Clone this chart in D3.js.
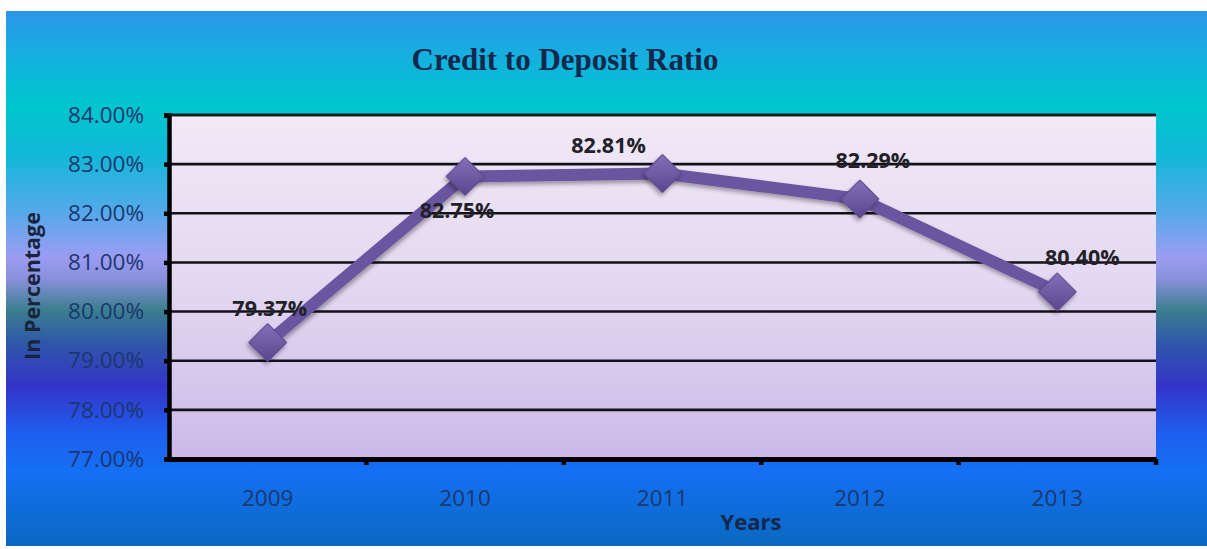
<!DOCTYPE html>
<html>
<head>
<meta charset="utf-8">
<script src="https://cdn.jsdelivr.net/npm/d3@7"></script>
<style>
  html, body { margin: 0; padding: 0; background: #fff; }
  svg { display: block; }
</style>
</head>
<body>
<svg id="chart" width="1207" height="549"></svg>
<script>
// Credit to Deposit Ratio, 2009–2013
const years = ["2009", "2010", "2011", "2012", "2013"];
const ratios = [79.37, 82.75, 82.81, 82.29, 80.40];
const yTicks = [77, 78, 79, 80, 81, 82, 83, 84];

// label placement relative to each marker
const labelDx = [2, -8, -54, 13, 25];
const labelDy = [-27, 42, -20, -31, -27];

const svg = d3.select("#chart");
const defs = svg.append("defs");

// outer background gradient
const bg = defs.append("linearGradient").attr("id", "bgGrad")
  .attr("x1", 0).attr("y1", 0).attr("x2", 0).attr("y2", 1);
[
  [0.00, "#2d96ea"], [0.10, "#10b4dc"], [0.18, "#00c6cc"], [0.27, "#12b8d8"],
  [0.38, "#58a8ea"], [0.46, "#9c9cf2"], [0.50, "#8a90dc"], [0.56, "#3a7e8e"],
  [0.62, "#2f58a8"], [0.70, "#3434c8"], [0.79, "#1e5ef0"], [0.86, "#1470f4"],
  [1.00, "#0a68c0"]
].forEach(([o, c]) => bg.append("stop").attr("offset", o).attr("stop-color", c));

// plot area gradient
const pg = defs.append("linearGradient").attr("id", "plotGrad")
  .attr("x1", 0).attr("y1", 0).attr("x2", 0).attr("y2", 1);
pg.append("stop").attr("offset", 0).attr("stop-color", "#f1e9f7");
pg.append("stop").attr("offset", 0.5).attr("stop-color", "#e2d8f0");
pg.append("stop").attr("offset", 1).attr("stop-color", "#cbb9e9");

// marker shading
const mg = defs.append("linearGradient").attr("id", "markGrad")
  .attr("x1", 0).attr("y1", 0).attr("x2", 1).attr("y2", 1);
mg.append("stop").attr("offset", 0).attr("stop-color", "#8470b8");
mg.append("stop").attr("offset", 1).attr("stop-color", "#5a468e");

const shadow = defs.append("filter").attr("id", "shadow")
  .attr("x", "-50%").attr("y", "-50%").attr("width", "200%").attr("height", "200%");
shadow.append("feDropShadow").attr("dx", 1).attr("dy", 3).attr("stdDeviation", 2)
  .attr("flood-color", "#000").attr("flood-opacity", 0.35);

svg.append("rect").attr("x", 6).attr("y", 11).attr("width", 1201).attr("height", 535)
  .attr("fill", "url(#bgGrad)");

const plot = { left: 169, right: 1156, top: 115, bottom: 459 };

const x = d3.scaleBand().domain(years).range([plot.left, plot.right]).padding(0);
const y = d3.scaleLinear().domain([77, 84]).range([plot.bottom, plot.top]);

svg.append("rect")
  .attr("x", plot.left).attr("y", plot.top)
  .attr("width", plot.right - plot.left).attr("height", plot.bottom - plot.top)
  .attr("fill", "url(#plotGrad)");

// horizontal grid
svg.append("g").selectAll("line").data(yTicks.filter(d => d > 77)).join("line")
  .attr("x1", plot.left).attr("x2", plot.right)
  .attr("y1", d => y(d)).attr("y2", d => y(d))
  .attr("stroke", "#141018").attr("stroke-width", 2.6);

const tickFont = "'Open Sans', 'Liberation Sans', sans-serif";

// y axis
const yAxis = svg.append("g").attr("transform", `translate(${plot.left},0)`)
  .call(d3.axisLeft(y).tickValues(yTicks).tickSize(5).tickPadding(20)
    .tickFormat(d => d.toFixed(2) + "%"));
yAxis.select(".domain").attr("stroke", "#000").attr("stroke-width", 4.5);
yAxis.selectAll(".tick line").attr("stroke", "#000").attr("stroke-width", 4.5);
yAxis.selectAll(".tick text")
  .attr("font-family", tickFont)
  .attr("font-size", 22.5).attr("fill", "#1b3770");

// x axis
const xAxis = svg.append("g").attr("transform", `translate(0,${plot.bottom})`)
  .call(d3.axisBottom(x).tickSize(0).tickPadding(31));
xAxis.select(".domain").attr("stroke", "#000").attr("stroke-width", 5);
xAxis.selectAll(".tick text")
  .attr("font-family", tickFont)
  .attr("font-size", 22.5).attr("fill", "#1b3770");
// category boundary ticks
const bounds = years.map(d => x(d)).concat([x(years[years.length - 1]) + x.bandwidth()]);
xAxis.append("g").selectAll("line").data(bounds.slice(1)).join("line")
  .attr("x1", d => d).attr("x2", d => d).attr("y1", 0).attr("y2", 6)
  .attr("stroke", "#000").attr("stroke-width", 4.5);

// top border of plot area
svg.append("line").attr("x1", plot.left).attr("x2", plot.right)
  .attr("y1", plot.top).attr("y2", plot.top)
  .attr("stroke", "#1a1a22").attr("stroke-width", 2.5);

const cx = d => x(d) + x.bandwidth() / 2;

// series line
const line = d3.line().x((d, i) => cx(years[i])).y(d => y(d));
svg.append("path").datum(ratios)
  .attr("d", line).attr("fill", "none")
  .attr("stroke", "#6a55a0").attr("stroke-width", 12)
  .attr("stroke-linejoin", "round")
  .attr("filter", "url(#shadow)");

// diamond markers
svg.append("g").selectAll("path").data(ratios).join("path")
  .attr("transform", (d, i) => `translate(${cx(years[i])},${y(d)}) rotate(45)`)
  .attr("d", d3.symbol().type(d3.symbolSquare).size(720))
  .attr("fill", "url(#markGrad)")
  .attr("stroke", "#5c4890").attr("stroke-width", 1)
  .attr("filter", "url(#shadow)");

// value labels
svg.append("g").selectAll("text").data(ratios).join("text")
  .attr("x", (d, i) => cx(years[i]) + labelDx[i])
  .attr("y", (d, i) => y(d) + labelDy[i])
  .attr("text-anchor", "middle")
  .attr("font-family", tickFont)
  .attr("font-weight", "bold").attr("font-size", 21.5).attr("fill", "#222028")
  .text(d => d.toFixed(2) + "%");

// title
svg.append("text").attr("x", 565).attr("y", 70).attr("text-anchor", "middle")
  .attr("font-family", "'Liberation Serif', serif").attr("font-weight", "bold")
  .attr("font-size", 31).attr("fill", "#14284e")
  .text("Credit to Deposit Ratio");

// axis titles
svg.append("text")
  .attr("transform", "translate(40,286) rotate(-90)")
  .attr("text-anchor", "middle")
  .attr("font-family", tickFont)
  .attr("font-weight", "bold").attr("font-size", 21.5).attr("fill", "#18243c")
  .text("In Percentage");

svg.append("text").attr("x", 751).attr("y", 530).attr("text-anchor", "middle")
  .attr("font-family", tickFont)
  .attr("font-weight", "bold").attr("font-size", 22).attr("fill", "#14284a")
  .text("Years");
</script>
</body>
</html>
